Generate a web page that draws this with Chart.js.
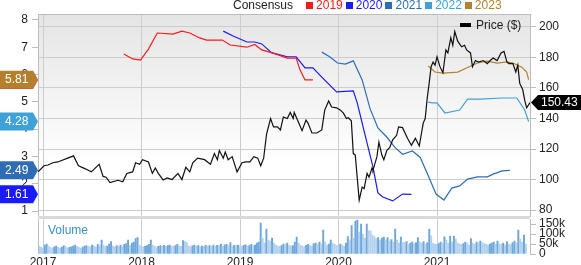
<!DOCTYPE html>
<html lang="en">
<head>
<meta charset="UTF-8">
<title>Price, Consensus & Volume</title>
<script src="https://cdn.jsdelivr.net/npm/chart.js@4.4.0/dist/chart.umd.min.js"></script>
<style>
	body{margin:0;width:581px;height:265px;overflow:hidden;background:#fff;position:relative;font-family:"Liberation Sans",Arial,sans-serif;color:#222}
	canvas{position:absolute;left:0}
	#main{top:0}
	#vol{top:209px}
	.legend{position:absolute;top:0;left:233px;display:flex;align-items:center;font-size:12px;line-height:11px;white-space:nowrap}
	.legend .sq{display:inline-block;width:7px;height:7px;margin-right:3px}
	.legend .it{margin-right:3px}
	.price-lg{position:absolute;left:460px;top:19px;display:flex;align-items:center;font-size:12px;line-height:12px}
	.price-lg i{display:inline-block;width:11px;height:4px;background:#000;margin-right:5px}
	.vol-lg{position:absolute;left:48px;top:223px;font-size:12px;color:#3a8fd0}
</style>
</head>
<body>
	<canvas id="main" width="581" height="230"></canvas>
	<canvas id="vol" width="581" height="56"></canvas>
	<div class="legend">
		<span style="margin-right:13px">Consensus</span>
		<span class="sq" style="background:#ff1a1a"></span><span class="it" style="color:#ff1a1a">2019</span>
		<span class="sq" style="background:#1a1aff"></span><span class="it" style="color:#1a1aff">2020</span>
		<span class="sq" style="background:#2e6db6"></span><span class="it" style="color:#2e6db6">2021</span>
		<span class="sq" style="background:#3ea2d8"></span><span class="it" style="color:#3ea2d8">2022</span>
		<span class="sq" style="background:#b5802e"></span><span class="it" style="color:#b5802e">2023</span>
	</div>
	<div class="price-lg"><i></i>Price ($)</div>
	<div class="vol-lg">Volume</div>
<script>
	// x values are decimal years
	var yearTicks = [2017, 2018, 2019, 2020, 2021];
	var consensusTicks = [1, 2, 3, 4, 5, 6, 7, 8];
	var priceTicks = [80, 100, 120, 140, 160, 180, 200];
	var volumeTicks = [0, 50, 100, 150]; // thousands

	// weekly closing price ($)
	var price = [
		[2016.95,105],[2017.01,109],[2017.05,109.5],[2017.10,111],[2017.15,111.5],[2017.25,114],[2017.31,115.5],[2017.36,109],[2017.43,107],[2017.49,105],[2017.57,110],[2017.61,102],[2017.64,101.5],[2017.68,98],[2017.76,99.5],[2017.81,98.5],[2017.85,104],[2017.91,105],[2017.94,111],[2017.98,110],
		[2018.01,113],[2018.07,111.5],[2018.11,104],[2018.14,107.5],[2018.17,104],[2018.22,99.7],[2018.26,101],[2018.31,100],[2018.37,104],[2018.41,100],[2018.45,108],[2018.49,105],[2018.52,111],[2018.57,114],[2018.64,113],[2018.70,110],[2018.74,117],[2018.77,113],[2018.79,119],[2018.83,114],[2018.85,118],[2018.88,113],[2018.92,115],[2018.97,105],
		[2019.02,111],[2019.06,111.5],[2019.10,111.5],[2019.14,115],[2019.18,114],[2019.21,109],[2019.24,114],[2019.27,130],[2019.31,140],[2019.34,134.5],[2019.38,134.5],[2019.41,132.5],[2019.44,141],[2019.48,140],[2019.51,144],[2019.54,140],[2019.55,144],[2019.59,138],[2019.63,132],[2019.67,139],[2019.69,137],[2019.73,130.5],[2019.78,130.5],[2019.83,132.5],[2019.86,145.5],[2019.90,151.5],[2019.93,147.5],[2019.98,147],
		[2020.02,145.5],[2020.05,143.5],[2020.08,140],[2020.10,140.5],[2020.13,138.5],[2020.15,117],[2020.17,116],[2020.21,86.5],[2020.24,95],[2020.26,94],[2020.29,104],[2020.31,101.5],[2020.34,107.5],[2020.35,106],[2020.39,115],[2020.41,124.5],[2020.44,116],[2020.46,113],[2020.49,119],[2020.52,121],[2020.55,126],[2020.59,129],[2020.61,134.5],[2020.65,134],[2020.70,127],[2020.74,122.5],[2020.78,127],[2020.82,122],[2020.86,137],[2020.88,140],[2020.90,153],[2020.92,163],[2020.94,174],[2020.96,177],[2020.98,175],
		[2021.00,180.5],[2021.03,174],[2021.06,170],[2021.09,185],[2021.11,183],[2021.14,193],[2021.16,188],[2021.18,197],[2021.21,190.7],[2021.25,187],[2021.28,188],[2021.30,185],[2021.34,183],[2021.36,174],[2021.39,178],[2021.42,177],[2021.47,178],[2021.51,176],[2021.54,178],[2021.57,179.7],[2021.61,178],[2021.65,183],[2021.68,184],[2021.71,177],[2021.73,176],[2021.77,176],[2021.80,170.5],[2021.82,175],[2021.84,163],[2021.87,159],[2021.89,152],[2021.91,147],[2021.93,149],[2021.944,150.43]
	];

	// EPS consensus by fiscal year ($)
	var cons2019 = [[2017.82,6.75],[2017.91,6.57],[2017.99,6.53],[2018.07,6.93],[2018.16,7.52],[2018.32,7.48],[2018.41,7.59],[2018.49,7.52],[2018.59,7.34],[2018.66,7.26],[2018.82,7.26],[2018.90,7.08],[2019.07,7.00],[2019.15,7.10],[2019.22,6.90],[2019.32,6.80],[2019.48,6.60],[2019.57,6.60],[2019.61,6.16],[2019.66,5.80],[2019.74,5.80]];
	var cons2020 = [[2018.83,7.59],[2018.93,7.41],[2019.07,7.19],[2019.15,7.19],[2019.22,7.12],[2019.32,6.80],[2019.48,6.65],[2019.57,6.65],[2019.66,6.24],[2019.74,6.24],[2019.84,5.87],[2019.98,5.36],[2020.15,5.40],[2020.19,4.96],[2020.29,3.49],[2020.35,2.61],[2020.40,1.66],[2020.45,1.51],[2020.55,1.37],[2020.65,1.62],[2020.74,1.61]];
	var cons2021 = [[2019.83,6.82],[2019.91,6.65],[2019.99,6.42],[2020.07,6.38],[2020.15,6.50],[2020.24,5.80],[2020.32,4.75],[2020.40,4.04],[2020.49,3.71],[2020.57,3.34],[2020.65,3.08],[2020.75,3.20],[2020.83,2.96],[2020.91,2.30],[2020.99,1.62],[2021.07,1.40],[2021.15,1.84],[2021.23,1.92],[2021.31,2.17],[2021.41,2.25],[2021.51,2.25],[2021.57,2.35],[2021.66,2.47],[2021.74,2.49]];
	var cons2022 = [[2020.91,4.99],[2020.95,4.96],[2021.00,4.96],[2021.08,4.59],[2021.23,4.70],[2021.31,5.10],[2021.44,5.10],[2021.66,5.14],[2021.81,5.14],[2021.89,4.70],[2021.93,4.28]];
	var cons2023 = [[2020.91,6.31],[2020.98,6.09],[2021.06,6.05],[2021.21,6.09],[2021.30,6.24],[2021.41,6.42],[2021.51,6.49],[2021.61,6.42],[2021.71,6.46],[2021.77,6.42],[2021.86,6.27],[2021.91,6.09],[2021.93,5.81]];

	// weekly volume (thousands), first week starts at volStart
	var volStart = 2016.96;
	var volume = [
		40,35,30,45,50,38,32,30,36,40,33,30,35,42,38,30,34,36,40,45,38,33,30,35,40,42,
		38,36,45,40,35,48,42,70,45,38,40,50,62,40,36,42,38,45,40,48,52,70,42,55,60,78,
		82,45,40,36,38,42,48,70,45,40,35,38,42,40,44,38,42,45,40,38,42,48,40,38,68,62,
		58,40,36,42,45,38,42,36,40,38,44,40,42,38,45,40,44,42,50,40,46,48,42,58,40,44,
		42,45,40,38,44,46,40,42,48,42,45,55,60,155,80,55,125,70,65,80,55,45,40,38,42,50,
		48,55,44,40,42,60,85,55,45,40,38,44,48,42,40,52,55,48,60,50,120,60,45,50,70,55,
		48,44,42,50,45,38,55,88,70,143,80,165,170,110,150,100,80,150,118,115,95,88,78,83,70,80,
		85,70,82,65,72,60,125,70,55,85,60,58,62,50,55,60,52,58,83,60,55,62,50,58,125,92,
		55,50,48,52,60,55,86,70,55,90,60,90,75,55,50,48,52,60,55,45,78,55,50,60,58,65,
		55,52,48,45,50,55,60,48,65,50,48,55,45,62,50,48,58,65,55,120,75,60,95,50
	];

	var series = [
		{label: '2019', data: cons2019, color: '#ff1a1a'},
		{label: '2020', data: cons2020, color: '#1a1aff'},
		{label: '2021', data: cons2021, color: '#2e6db6'},
		{label: '2022', data: cons2022, color: '#3ea2d8'},
		{label: '2023', data: cons2023, color: '#b5802e'}
	];

	var xMin = 2016.949, xMax = 2021.944;
	var gridColor = '#cdcdcd', axisColor = '#bdbdbd';

	Chart.defaults.font.family = '"Liberation Sans", Arial, sans-serif';
	Chart.defaults.font.size = 12;
	Chart.defaults.color = '#222';

	function toXY(arr){ return arr.map(function(p){ return {x: p[0], y: p[1]}; }); }
	function fixTicks(list){ return function(s){ s.ticks = list.map(function(v){ return {value: v}; }); }; }
	function fixWidth(w){ return function(s){ s.width = w; }; }

	var bgPlugin = {
		id: 'bg',
		beforeDraw: function(chart){
			var c = chart.ctx, a = chart.chartArea;
			var g = c.createLinearGradient(0, a.top, 0, a.top + 150);
			g.addColorStop(0, '#e5e5e5');
			g.addColorStop(1, '#ffffff');
			c.save();
			c.fillStyle = g;
			c.fillRect(a.left, a.top, a.right - a.left, a.bottom - a.top);
			c.restore();
		},
		afterDraw: function(chart){
			var c = chart.ctx, a = chart.chartArea;
			c.save();
			c.strokeStyle = axisColor;
			c.lineWidth = 1;
			c.beginPath();
			c.moveTo(a.left, a.top + 0.5);
			c.lineTo(a.right, a.top + 0.5);
			c.stroke();
			// separator to the volume panel
			c.fillStyle = '#dadada';
			c.fillRect(a.left, a.bottom, a.right - a.left, 3);
			c.restore();
		}
	};

	function flag(c, x, y, w, h, tip, color, text, dir){
		c.fillStyle = color;
		c.beginPath();
		if (dir === 'right') {
			c.moveTo(x, y - h / 2);
			c.lineTo(x + w, y - h / 2);
			c.lineTo(x + w + tip, y);
			c.lineTo(x + w, y + h / 2);
			c.lineTo(x, y + h / 2);
		} else {
			c.moveTo(x, y);
			c.lineTo(x + tip, y - h / 2);
			c.lineTo(x + tip + w, y - h / 2);
			c.lineTo(x + tip + w, y + h / 2);
			c.lineTo(x + tip, y + h / 2);
		}
		c.closePath();
		c.fill();
		c.fillStyle = '#fff';
		c.textBaseline = 'middle';
		c.textAlign = 'left';
		c.fillText(text, dir === 'right' ? x + 5 : x + tip + 3, y + 0.5);
	}

	var flagPlugin = {
		id: 'flags',
		afterDraw: function(chart){
			var c = chart.ctx;
			var yC = chart.scales.yC, yP = chart.scales.yP;
			c.save();
			c.font = '12px "Liberation Sans", Arial, sans-serif';
			series.forEach(function(s){
				var last = s.data[s.data.length - 1][1];
				flag(c, 0, yC.getPixelForValue(last), 33, 18, 5, s.color, last.toFixed(2), 'right');
			});
			var lp = price[price.length - 1][1];
			flag(c, chart.chartArea.right + 1, yP.getPixelForValue(lp), 43, 15, 7, '#000', lp.toFixed(2), 'left');
			c.restore();
		}
	};

	var datasets = [{
		label: 'Price ($)', data: toXY(price), yAxisID: 'yP',
		borderColor: '#111', borderWidth: 1.2
	}];
	series.forEach(function(s){
		datasets.push({label: s.label, data: toXY(s.data), yAxisID: 'yC', borderColor: s.color, borderWidth: 1.2});
	});

	new Chart(document.getElementById('main'), {
		type: 'line',
		data: {datasets: datasets},
		options: {
			responsive: false,
			animation: false,
			layout: {padding: {top: 14, bottom: 14, left: 0, right: 0}},
			elements: {point: {radius: 0}, line: {tension: 0}},
			plugins: {legend: {display: false}, tooltip: {enabled: false}},
			scales: {
				x: {
					type: 'linear', min: xMin, max: xMax,
					afterBuildTicks: fixTicks(yearTicks),
					ticks: {display: false},
					grid: {color: gridColor, drawTicks: false},
					border: {display: false},
					afterFit: function(s){ s.height = 0; }
				},
				yC: {
					position: 'left', min: 0.817, max: 8.216,
					afterBuildTicks: fixTicks(consensusTicks),
					grid: {drawOnChartArea: false, tickLength: 6, tickColor: axisColor},
					border: {color: axisColor},
					ticks: {padding: 4, autoSkip: false},
					afterFit: fixWidth(38)
				},
				yP: {
					position: 'right', min: 76.07, max: 208.52,
					afterBuildTicks: fixTicks(priceTicks),
					grid: {color: gridColor, tickLength: 6, tickColor: axisColor},
					border: {color: axisColor},
					ticks: {padding: 3, autoSkip: false},
					afterFit: fixWidth(51)
				}
			}
		},
		plugins: [bgPlugin, flagPlugin]
	});

	var volData = volume.map(function(v, i){ return {x: volStart + i / 52, y: v}; });

	new Chart(document.getElementById('vol'), {
		type: 'bar',
		data: {datasets: [{
			data: volData, yAxisID: 'yV',
			barThickness: 1.3,
			backgroundColor: function(ctx){
				var i = ctx.dataIndex;
				return (i > 0 && volume[i] > volume[i - 1]) ? '#6ea7da' : '#b3d1ee';
			}
		}]},
		options: {
			responsive: false,
			animation: false,
			layout: {padding: {top: 10, bottom: 0, left: 38, right: 0}},
			plugins: {legend: {display: false}, tooltip: {enabled: false}},
			scales: {
				x: {
					type: 'linear', min: xMin, max: xMax, offset: false,
					afterBuildTicks: fixTicks(yearTicks),
					ticks: {padding: 1, autoSkip: false, maxRotation: 0, callback: function(v){ return String(v); }},
					grid: {color: gridColor, drawTicks: false, offset: false},
					border: {display: false},
					afterFit: function(s){ s.height = 11; }
				},
				yV: {
					position: 'right', min: 0, max: 175,
					afterBuildTicks: fixTicks(volumeTicks),
					grid: {drawOnChartArea: false, tickLength: 6, tickColor: axisColor},
					border: {color: axisColor},
					ticks: {padding: 3, autoSkip: false, callback: function(v){ return v === 0 ? '0' : v + 'k'; }},
					afterFit: fixWidth(51)
				}
			}
		},
		plugins: [{
			id: 'leftEdge',
			afterDraw: function(chart){
				var c = chart.ctx, a = chart.chartArea;
				c.save();
				c.strokeStyle = axisColor;
				c.beginPath();
				c.moveTo(a.left + 0.5, a.top);
				c.lineTo(a.left + 0.5, a.bottom);
				c.stroke();
				c.restore();
			}
		}]
	});
</script>
</body>
</html>
